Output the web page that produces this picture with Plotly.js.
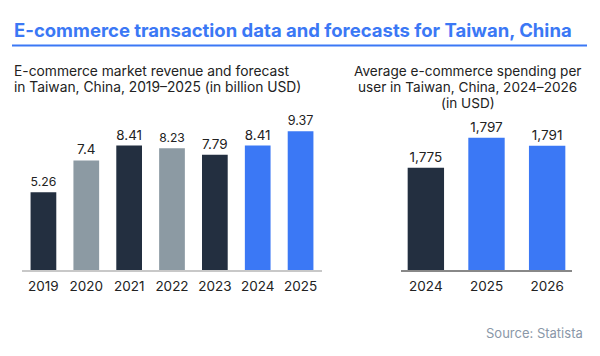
<!DOCTYPE html>
<html>
<head>
<meta charset="utf-8">
<script src="https://cdn.plot.ly/plotly-3.0.1.min.js"></script>
<style>html,body{margin:0;padding:0;background:#fff}#chart{width:600px;height:356px}</style>
</head>
<body>
<div id="chart"></div>
<script>
// Data
const revenueYears = ["2019","2020","2021","2022","2023","2024","2025"];
const revenueValues = [5.26, 7.4, 8.41, 8.23, 7.79, 8.41, 9.37];
const revenueLabels = ["5.26","7.4","8.41","8.23","7.79","8.41","9.37"];
const spendYears = ["2024","2025","2026"];
const spendValues = [1775, 1797, 1791];
const spendLabels = ["1,775","1,797","1,791"];

const mainTitle = "E-commerce transaction data and forecasts for Taiwan, China";
const leftTitleLines = ["E-commerce market revenue and forecast", "in Taiwan, China, 2019–2025 (in billion USD)"];
const rightTitleLines = ["Average e-commerce spending per", "user in Taiwan, China, 2024–2026", "(in USD)"];
const sourceText = "Source: Statista";

const DARK = "#232f40", GREY = "#8c9aa3", BLUE = "#3b78f5";
const revenueColors = [DARK, GREY, DARK, GREY, DARK, BLUE, BLUE];
const spendColors = [DARK, BLUE, BLUE];
const FONT = "Inter, 'Open Sans', sans-serif";

const traces = [
  {
    type: "bar", x: revenueYears, y: revenueValues, text: revenueLabels,
    texttemplate: "%{text}", textposition: "outside", cliponaxis: false,
    textfont: {family: FONT, size: 13.5, color: "#222"},
    marker: {color: revenueColors}, xaxis: "x", yaxis: "y", hoverinfo: "x+y"
  },
  {
    type: "bar", x: spendYears, y: spendValues, text: spendLabels,
    texttemplate: "%{text}", textposition: "outside", cliponaxis: false,
    textfont: {family: FONT, size: 13.5, color: "#222"},
    marker: {color: spendColors}, xaxis: "x2", yaxis: "y2", hoverinfo: "x+y"
  }
];

const py = v => 1 - v / 356;
const annotations = [
  {text: "<b>" + mainTitle + "</b>", xref: "paper", yref: "paper",
   x: 12/600, y: py(30), xanchor: "left", yanchor: "middle", showarrow: false,
   font: {family: FONT, size: 18.5, color: BLUE}},
  {text: sourceText, xref: "paper", yref: "paper",
   x: 585/600, y: py(333), xanchor: "right", yanchor: "middle", showarrow: false,
   font: {family: FONT, size: 13, color: "#8a97a8"}}
];
const leftY = [71, 87];
leftTitleLines.forEach((t, i) => annotations.push({
  text: t, xref: "paper", yref: "paper", x: 12/600, y: py(leftY[i]),
  xanchor: "left", yanchor: "middle", showarrow: false,
  font: {family: FONT, size: 13.8, color: "#222"}
}));
const rightY = [71, 87, 103];
rightTitleLines.forEach((t, i) => annotations.push({
  text: t, xref: "paper", yref: "paper", x: 467.5/600, y: py(rightY[i]),
  xanchor: "center", yanchor: "middle", showarrow: false,
  font: {family: FONT, size: 13.6, color: "#222"}
}));

const layout = {
  width: 600, height: 356,
  margin: {l: 0, r: 0, t: 0, b: 0},
  paper_bgcolor: "#fff", plot_bgcolor: "#fff",
  showlegend: false, bargap: 0.4,
  font: {family: FONT, color: "#222"},
  xaxis: {domain: [22/600, 322/600], anchor: "y", range: [-0.5, 6.5], type: "category",
          showline: true, linecolor: "#c8c8c8", linewidth: 1.5, ticks: "", showgrid: false,
          ticklabelstandoff: 3, tickfont: {family: FONT, size: 13.5, color: "#222"}},
  yaxis: {domain: [86/356, 241/356], anchor: "x", range: [0, 10.47], visible: false, showgrid: false},
  xaxis2: {domain: [401/600, 572/600], anchor: "y2", range: [-0.41, 2.41], type: "category",
          showline: true, linecolor: "#888", linewidth: 1.5, ticks: "", showgrid: false,
          ticklabelstandoff: 3, tickfont: {family: FONT, size: 13.5, color: "#222"}},
  yaxis2: {domain: [86/356, 241/356], anchor: "x2", range: [1700, 1813.6], visible: false, showgrid: false},
  annotations: annotations,
  shapes: [
    {type: "line", xref: "paper", yref: "paper", x0: 12/600, x1: 587/600, y0: py(45.5), y1: py(45.5),
     line: {color: BLUE, width: 2}}
  ]
};

Plotly.newPlot("chart", traces, layout, {displayModeBar: false, staticPlot: true});
</script>
</body>
</html>
